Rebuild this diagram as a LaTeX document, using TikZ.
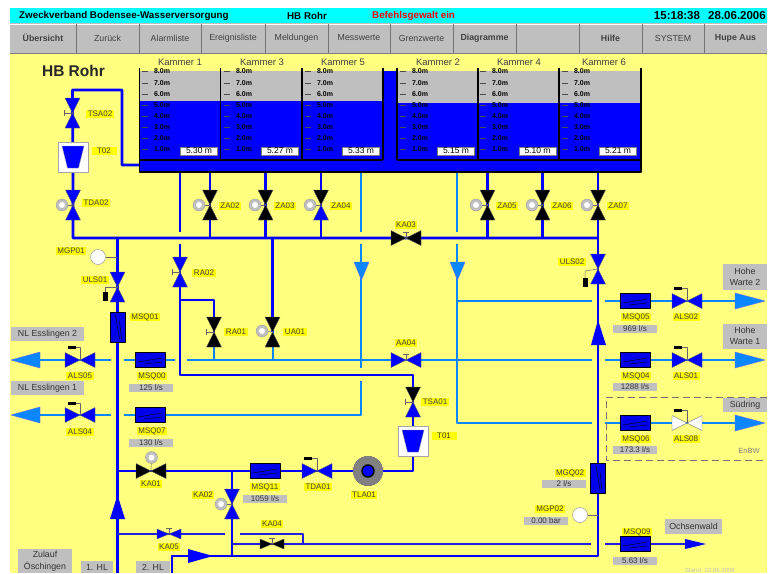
\documentclass[tikz,border=0pt]{standalone}
\usepackage{fontspec}
\setmainfont{Liberation Sans}
\usepackage{pgf,tikz}
\usetikzlibrary{arrows}
\usetikzlibrary{positioning}
\definecolor{bgyellow}{rgb}{1,1,0.5}
\definecolor{lblyellow}{rgb}{1,1,0}
\definecolor{barcyan}{rgb}{0,1,1}
\definecolor{panelgrey}{rgb}{0.75,0.75,0.75}
\definecolor{waterblue}{rgb}{0,0,1}
\definecolor{lightpipe}{rgb}{0.04,0.53,1}
\definecolor{meterblue}{rgb}{0,0,0.92}
\tikzset{
pipe/.style={color=waterblue,line width=2.8pt},
thinpipe/.style={color=waterblue!75!gray,line width=1.8pt},
lightline/.style={color=lightpipe,line width=2pt},
valve/.style={draw=black!60,line width=0.3pt},
fine/.style={color=black!60,line width=0.5pt},
lbl/.style={fill=lblyellow,text=black!75,font=\fontsize{8}{9}\selectfont,inner xsep=1.5pt,inner ysep=0.8pt},
val/.style={fill=panelgrey,text=black!80,font=\fontsize{8}{9}\selectfont,inner xsep=2pt,inner ysep=1pt,minimum width=44pt},
sign/.style={fill=panelgrey,text=black!80,font=\fontsize{8.8}{11.5}\selectfont,inner sep=1pt,align=center},
btn/.style={text=black!75,font=\fontsize{8.8}{10}\selectfont},
tick/.style={text=black,font=\fontsize{7}{8}\selectfont\bfseries,inner sep=0pt},
level/.style={fill=white,draw=black!50,line width=0.3pt,text=black,font=\fontsize{8.5}{9}\selectfont,inner xsep=1pt,inner ysep=0.8pt,minimum width=37pt},
}
\newcommand{\valvev}[3]{%
\draw[valve,fill=#2,shift={(#1)}] (-7.5,-15) -- (7.5,-15) -- (0,0) -- cycle;
\draw[valve,fill=#3,shift={(#1)}] (-7.5,15) -- (7.5,15) -- (0,0) -- cycle;}
\newcommand{\valveh}[3]{%
\draw[valve,fill=#2,shift={(#1)}] (-15,-7.5) -- (-15,7.5) -- (0,0) -- cycle;
\draw[valve,fill=#3,shift={(#1)}] (15,-7.5) -- (15,7.5) -- (0,0) -- cycle;}
\newcommand{\motor}[2]{%
\draw[fine] (#1) -- (#2);
\draw[fill=panelgrey,draw=black!40,line width=0.3pt] (#1) circle (6);
\fill[white] (#1) circle (3);}
\newcommand{\meterh}[1]{%
\draw[fill=meterblue,draw=black,line width=0.5pt,shift={(#1)}] (-15,-7.5) rectangle (15,7.5);
\draw[black,line width=0.4pt,shift={(#1)}] (-12,2) -- (12,-2) (-6,4) -- (12,2);}
\newcommand{\meterv}[1]{%
\draw[fill=meterblue,draw=black,line width=0.5pt,shift={(#1)}] (-7.5,-15) rectangle (7.5,15);
\draw[black,line width=0.4pt,shift={(#1)}] (-2,-12) -- (2,12) (2,-6) -- (4,12);}
\newcommand{\tbox}[1]{%
\draw[fill=white,draw=black!35,line width=0.8pt,shift={(#1)}] (-15,-15) rectangle (15,15);
\draw[fill=waterblue,draw=black!40,line width=0.3pt,shift={(#1)}] (-11,-11) -- (11,-11) -- (5.5,11) -- (-5.5,11) -- cycle;}
\begin{document}
\begin{tikzpicture}[line join=round,x=1pt,y=-1pt]
\useasboundingbox (0,0) rectangle (773,573);
\fill[white] (0,0) rectangle (773,573);
\fill[bgyellow] (10,8) rectangle (767,573);
\fill[barcyan] (10,8) rectangle (767,23);
\node[anchor=west,inner sep=0pt,font=\fontsize{9.8}{11}\selectfont\bfseries] (titel) at (19,16) {Zweckverband Bodensee-Wasserversorgung};
\node[inner sep=0pt,font=\fontsize{9.8}{11}\selectfont\bfseries] (ort) at (307,16) {HB Rohr};
\node[anchor=west,inner sep=0pt,text=red,font=\fontsize{9.8}{11}\selectfont\bfseries] (befehl) at (372,16) {Befehlsgewalt ein};
\node[inner sep=0pt,font=\fontsize{11.5}{12}\selectfont\bfseries] (zeit) at (677,16) {15:18:38};
\node[inner sep=0pt,font=\fontsize{11.5}{12}\selectfont\bfseries] (datum) at (737,16) {28.06.2006};
\fill[panelgrey] (10,23) rectangle (767,53);
\draw[white,line width=0.6pt] (10,24) -- (767,24);
\draw[black!50,line width=1pt] (10,53) -- (767,53);
\foreach \x in {76,139,201,265,328,390,453,516,579,642,704}
\draw[black!55,line width=1pt] (\x,24) -- (\x,53);
\foreach \i/\x/\t in {b1/43/\textbf{Übersicht},b2/107.5/Zurück,b3/170/Alarmliste,b4/233/Ereignisliste,b5/296.5/Meldungen,b6/359/Messwerte,b7/421.5/Grenzwerte,b8/484.5/\textbf{Diagramme},b9/610.5/\textbf{Hilfe},b10/673/SYSTEM,b11/735.5/\textbf{Hupe Aus}}
\node[btn] (\i) at (\x,38) {\t};
\node[inner sep=0pt,text=black!85,font=\fontsize{15.5}{17}\selectfont\bfseries] (hb) at (73.5,71) {HB Rohr};
\coordinate (band) at (139,172);
\coordinate (main) at (73,238);
\foreach \n/\x/\y in {TSA02/72.5/113,T02/73/157,TDA02/73/205,ZA02/210/205,ZA03/265.5/205,ZA04/321/205,ZA05/487.5/205,ZA06/542.5/205,ZA07/598/205,KA03/406/238,ULS01/117.5/287,ULS02/598/269,MSQ01/117.5/327,RA02/180/272,RA01/214/332,UA01/272.5/332,ALS05/80/360,ALS04/80/415,ALS02/687/301,ALS01/687/360,ALS08/687/423,MSQ00/150/360,MSQ07/150/415,MSQ05/635/301,MSQ04/635/360,MSQ06/635/423,MSQ11/265/471,MSQ09/635/544,MGQ02/598/478,AA04/406/360,TSA01/413/402,T01/413/441,KA01/151/471,TDA01/317/471,TLA01/368/471,KA02/232/504,KA05/169/534,KA04/272/544}
\coordinate (\n) at (\x,\y);
\draw[pipe] (139,165) -- (122,165) -- (122,90) -- (TSA02 |- 0,90) -- (TSA02) -- (T02) -- (TDA02) -- (main) -- (ZA07 |- main);
\draw[pipe] (RA02 |- band) -- (180,232);
\draw[pipe] (180,244) -- (RA02) -- (180,375) -- (TSA01 |- 0,375) -- (TSA01) -- (T01) -- (T01 |- TLA01) -- (KA01) -- (117,471);
\foreach \n in {ZA02,ZA03,ZA04,ZA05,ZA06}
\draw[pipe] (\n |- band) -- (\n |- main);
\draw[pipe] (ZA07 |- band) -- (ULS02) -- (MGQ02) -- (598,556) -- (172,556) -- (172,573);
\draw[pipe] (117.5,238) -- (ULS01) -- (117.5,573);
\draw[pipe] (180,300) -- (214,300) -- (RA01);
\draw[pipe] (UA01 |- main) -- (UA01);
\draw[pipe] (KA02 |- KA01) -- (KA02) -- (232,556);
\draw[thinpipe] (117,534) -- (KA05) -- (225,534);
\draw[thinpipe] (240,534) -- (303,534) -- (303,544);
\draw[thinpipe] (232,544) -- (KA04) -- (591,544);
\draw[thinpipe] (605,544) -- (MSQ09) -- (688,544);
\draw[lightline] (RA01) -- (RA01 |- ALS05);
\draw[lightline] (UA01) -- (UA01 |- ALS05);
\draw[lightline] (361,172) -- (361,232);
\draw[lightline] (361,244) -- (361,368);
\draw[lightline] (361,381) -- (361,415) -- (124,415);
\draw[lightline] (457,172) -- (457,232);
\draw[lightline] (457,244) -- (457,423) -- (592,423);
\draw[lightline] (457,301) -- (592,301);
\draw[lightline] (30,360) -- (111,360);
\draw[lightline] (124,360) -- (175,360);
\draw[lightline] (187,360) -- (592,360);
\draw[lightline] (30,415) -- (111,415);
\foreach \y in {301,360,423}
\draw[lightline] (605,\y) -- (740,\y);
\fill[panelgrey] (139,71) rectangle (383,101);
\fill[waterblue] (139,101) rectangle (397,172);
\fill[waterblue] (383,71) rectangle (397,101);
\fill[panelgrey] (397,71) rectangle (641,103);
\fill[waterblue] (397,103) rectangle (641,172);
\foreach \x in {220.5,302,383,397,478,559}
\draw[black,line width=1.2pt] (\x,68) -- (\x,160);
\draw[black,line width=1.2pt] (139.5,68) -- (139.5,172) -- (641,172) -- (641,68);
\draw[black,line width=1.2pt] (139.5,160) -- (383,160) (397,160) -- (641,160);
\foreach \k/\xt/\xk/\xv/\v in {1/142/180/199/5.30,3/224/262/280/5.27,5/305/343/361/5.33,2/400/438/456/5.15,4/480/519/537.5/5.10,6/562/604/618/5.21}{
\node[inner sep=0pt,text=black!75,font=\fontsize{9.5}{10}\selectfont] (kammer\k) at (\xk,62) {Kammer \k};
\foreach \m/\y in {8/71.5,7/83,6/94,5/105,4/116,3/127,2/138,1/149.5}{
\draw[black!70,line width=0.4pt] (\xt,\y) -- (\xt+6,\y);
\node[tick] (m\k\m) at (\xt+20,\y) {\m.0m};
}
\node[level] (stand\k) at (\xv,151) {\v\ m};
}
\valvev{TSA02}{waterblue}{waterblue}
\valvev{TDA02}{waterblue}{waterblue}
\valvev{ZA02}{black}{black}
\valvev{ZA03}{black}{black}
\valvev{ZA04}{black}{waterblue}
\valvev{ZA05}{black}{black}
\valvev{ZA06}{black}{black}
\valvev{ZA07}{black}{black}
\valvev{ULS01}{waterblue}{waterblue}
\valvev{ULS02}{waterblue}{waterblue}
\valvev{RA02}{waterblue}{waterblue}
\valvev{RA01}{black}{black}
\valvev{UA01}{black}{black}
\valvev{TSA01}{black}{waterblue}
\valvev{KA02}{waterblue}{waterblue}
\valveh{KA03}{black}{black}
\valveh{AA04}{waterblue}{waterblue}
\valveh{ALS05}{waterblue}{waterblue}
\valveh{ALS04}{waterblue}{waterblue}
\valveh{ALS02}{waterblue}{waterblue}
\valveh{ALS01}{waterblue}{waterblue}
\valveh{ALS08}{white}{white}
\valveh{KA01}{black}{black}
\valveh{TDA01}{waterblue}{waterblue}
\draw[valve,fill=waterblue,shift={(KA05)}] (-12,-5) -- (-12,5) -- (0,0) -- cycle;
\draw[valve,fill=waterblue,shift={(KA05)}] (12,-5) -- (12,5) -- (0,0) -- cycle;
\draw[valve,fill=black,shift={(KA04)}] (-12,-5) -- (-12,5) -- (0,0) -- cycle;
\draw[valve,fill=black,shift={(KA04)}] (12,-5) -- (12,5) -- (0,0) -- cycle;
\foreach \n in {TSA02,RA02,RA01,TSA01}
\draw[fine,shift={(\n)}] (0,0) -- (-8,0) (-8,-3) -- (-8,3);
\foreach \n in {KA03,AA04,KA05,KA04}
\draw[fine,shift={(\n)}] (0,0) -- (0,-6) (-3,-6) -- (3,-6);
\motor{62,205}{TDA02}
\motor{199,205}{ZA02}
\motor{255,205}{ZA03}
\motor{310,205}{ZA04}
\motor{476,205}{ZA05}
\motor{532,205}{ZA06}
\motor{587,205}{ZA07}
\motor{262,331}{UA01}
\motor{221,504}{KA02}
\motor{151.5,457.5}{KA01}
\foreach \x/\y/\n in {72/347/ALS05,72/403/ALS04,678/288/ALS02,678/347/ALS01,678/410/ALS08,308/458/TDA01}{
\draw[fine] (\x,\y) -- (\n |- 0,\y) -- (\n);
\fill[black] (\x-4,\y-1.5) rectangle (\x+4,\y+1.5);
}
\draw[fine] (105,292) -- (105,287) -- (ULS01);
\fill[black] (102.5,292) rectangle (107.5,301);
\draw[fine] (585,278) -- (585,271) -- (ULS02);
\fill[black] (582.5,278) rectangle (587.5,287);
\meterv{MSQ01}
\meterv{MGQ02}
\foreach \n in {MSQ00,MSQ07,MSQ05,MSQ04,MSQ06,MSQ11,MSQ09}
\meterh{\n}
\tbox{T02}
\tbox{T01}
\draw[fill=gray,draw=black!50,line width=0.5pt] (TLA01) circle (14.5);
\draw[fill=waterblue,draw=black,line width=1.4pt] (TLA01) circle (6);
\draw[fill=white,draw=black!40,line width=0.5pt] (98,257) circle (7.5);
\draw[fine] (105.5,257) -- (117,257);
\draw[fill=white,draw=black!40,line width=0.5pt] (580,515) circle (7.5);
\draw[fine] (587.5,515) -- (598,515);
\draw[fill=lightpipe,draw=waterblue!60,line width=0.4pt] (11,360) -- (40,352) -- (40,368) -- cycle;
\draw[fill=lightpipe,draw=waterblue!60,line width=0.4pt] (11,415) -- (40,407) -- (40,423) -- cycle;
\draw[fill=lightpipe,draw=waterblue!60,line width=0.4pt] (735,293) -- (765,301) -- (735,309) -- cycle;
\draw[fill=lightpipe,draw=waterblue!60,line width=0.4pt] (735,352) -- (765,360) -- (735,368) -- cycle;
\draw[fill=lightpipe,draw=waterblue!60,line width=0.4pt] (735,415) -- (765,423) -- (735,431) -- cycle;
\draw[fill=lightpipe,draw=waterblue!60,line width=0.4pt] (354,262) -- (369,262) -- (361.5,280) -- cycle;
\draw[fill=lightpipe,draw=waterblue!60,line width=0.4pt] (450,262) -- (465,262) -- (457.5,280) -- cycle;
\fill[waterblue] (598,320) -- (606,345) -- (591,345) -- cycle;
\fill[waterblue] (117.5,495) -- (125,519) -- (110,519) -- cycle;
\fill[waterblue] (188,549) -- (213,556) -- (188,563) -- cycle;
\fill[waterblue] (685,539) -- (706,544) -- (685,549) -- cycle;
\draw[black!55,line width=0.8pt,dash pattern=on 7pt off 4pt] (767,397) -- (606,397) -- (606,460) -- (767,460);
\foreach \n/\x/\y in {TSA02/100/114,TDA02/96/203,ZA02/230/206,ZA03/285/206,ZA04/341/206,ZA05/507/206,ZA06/562/206,ZA07/618/206,KA03/406/225,AA04/406/343,MGP01/71/251,ULS02/572/262,ULS01/95/280,MSQ01/145/317,RA02/204/273,RA01/236/332,UA01/295/332,ALS05/80/376,ALS04/80/432,MSQ00/152/376,MSQ07/152/431,MSQ05/636/317,ALS02/686/317,MSQ04/636/376,ALS01/686/376,MSQ06/636/439,ALS08/686/439,TSA01/435/402,MGQ02/570/473,MGP02/550/509,MSQ09/637/532,KA01/151/484,MSQ11/265/487,TDA01/318/487,TLA01/364/495,KA02/203/495,KA04/272/524,KA05/169/547}
\node[lbl] (l\n) at (\x,\y) {\n};
\node[lbl,minimum width=25pt] (lT02) at (104,151) {T02};
\node[lbl,minimum width=25pt] (lT01) at (444,436) {T01};
\foreach \n/\x/\y/\t in {v1/151/388/{125 l/s},v2/151/443/{130 l/s},v3/265/499/{1059 l/s},v4/635/329/{969 l/s},v5/635/387/{1288 l/s},v6/635/450/{173.3 l/s},v7/635/561/{5.63 l/s},v8/564/484/{2 l/s},v9/546/521/{0.00 bar}}
\node[val] (\n) at (\x,\y) {\t};
\node[sign,minimum width=73pt,minimum height=14pt] (es2) at (47.5,334) {NL Esslingen 2};
\node[sign,minimum width=73pt,minimum height=14pt] (es1) at (47.5,388) {NL Esslingen 1};
\node[sign,minimum width=44pt,minimum height=26pt] (hw2) at (745,277) {Hohe\\Warte 2};
\node[sign,minimum width=44pt,minimum height=25pt] (hw1) at (745,336) {Hohe\\Warte 1};
\node[sign,minimum width=44pt,minimum height=14pt] (sued) at (745,405) {Südring};
\node[sign,minimum width=57pt,minimum height=15pt] (ochsen) at (693.5,526.5) {Ochsenwald};
\node[sign,anchor=north,minimum width=54pt,minimum height=24pt] (zulauf) at (45,549) {Zulauf\\Öschingen};
\node[sign,anchor=north,minimum width=32pt,minimum height=12pt] (hl1) at (97,561) {1. HL};
\node[sign,anchor=north,minimum width=34pt,minimum height=12pt] (hl2) at (153,561) {2. HL};
\node[inner sep=0pt,text=black!50,font=\fontsize{7.5}{8}\selectfont] (enbw) at (749,451) {EnBW};
\node[inner sep=0pt,text=black!25,font=\fontsize{6}{7}\selectfont] (standd) at (710,570) {Stand: 22.06.2006};
\end{tikzpicture}
\end{document}
